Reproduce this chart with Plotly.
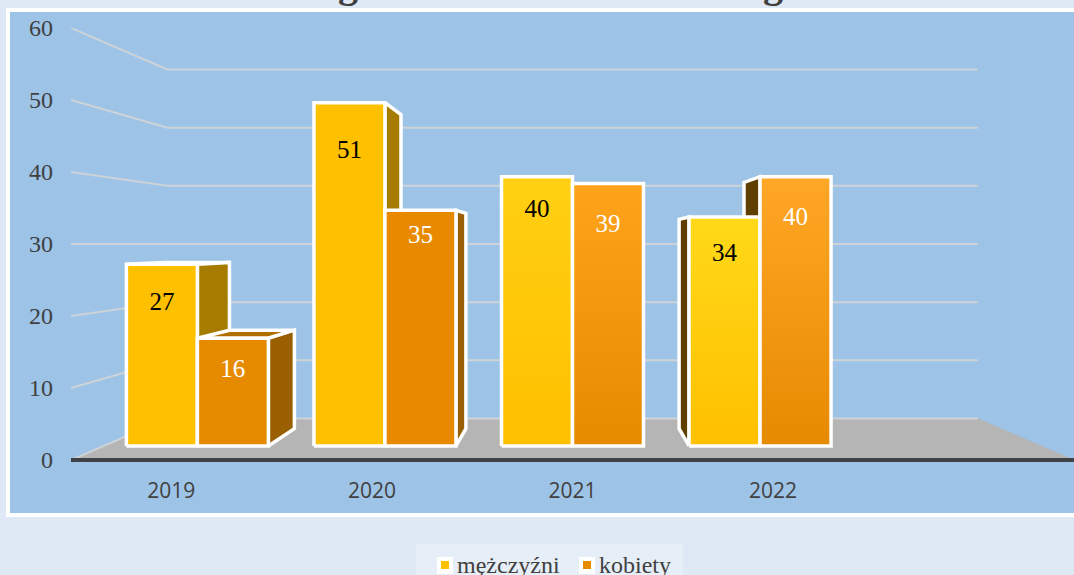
import plotly.graph_objects as go

# ---- data ----
categories = ["2019", "2020", "2021", "2022"]
men = [27, 51, 40, 34]
women = [16, 35, 39, 40]
series_names = ["mężczyźni", "kobiety"]
value_ticks = [0, 10, 20, 30, 40, 50, 60]

# ---- styling and perspective parameters ----
SERIF = "Liberation Serif"
SANS = "Open Sans"
TEXT = "#404040"
PAGE = "#deE9f5"
PANEL = "#9dc3e6"
FLOOR = "#b5b5b5"
GRID = "#cdd3d8"
HALF = 0.3785          # width of one bar in category units
S_FRONT, S_BACK = 0.935, 0.855   # depth scale of a bar's front and back
S_WALL = 0.808         # depth scale of back wall
VP_U, VP_V = 2, 30     # vanishing point in axis units
U_MIN, U_MAX = -0.5, 4.5
V_MAX = 60
M_L, M_R, M_T, M_B = 71, 0, 28, 115
W, H = 1074, 575

men_front = [("#ffc000", "#ffc000"), ("#ffc000", "#ffc000"), ("#ffd012", "#ffc000"), ("#ffd919", "#ffc000")]
women_front = [("#e68a00", "#e68a00"), ("#e88a00", "#e88a00"), ("#ffa31a", "#e68a00"), ("#ffa726", "#e68a00")]
legend_colors = ["#ffc000", "#e68a00"]
men_right, women_right = "#a67c00", "#995f00"
left_face = "#5f3f00"
top_colors = ["#b06f00", "#b06f00"]
# vertical label drop below bar top, in axis units
men_drop = [5.5, 6.8, 4.8, 5.2]
women_drop = [4.5, 3.6, 5.9, 5.8]


def proj(u, v, s):
    return VP_U + (u - VP_U) * s, VP_V + (v - VP_V) * s


fig = go.Figure()


def poly(points, fill, top=None, border="white", width=3.5):
    us, vs = zip(*points)
    kw = dict(fillcolor=fill)
    if top is not None and top != fill:
        kw = dict(fillgradient=dict(type="vertical", colorscale=[[0, fill], [1, top]]))
    fig.add_trace(go.Scatter(x=list(us) + [us[0]], y=list(vs) + [vs[0]], mode="lines", fill="toself",
                             line=dict(color=border, width=width), hoverinfo="skip", showlegend=False, **kw))


# floor
poly([proj(U_MIN, 0, 1), proj(U_MIN, 0, S_WALL), proj(U_MAX, 0, S_WALL), proj(U_MAX, 0, 1)], FLOOR, border=FLOOR, width=0.5)

# walls' gridlines
for t in value_ticks:
    a, b, c = proj(U_MIN, t, 1), proj(U_MIN, t, S_WALL), proj(U_MAX, t, S_WALL)
    fig.add_trace(go.Scatter(x=[a[0], b[0], c[0]], y=[a[1], b[1], c[1]], mode="lines",
                             line=dict(color=GRID, width=2), hoverinfo="skip", showlegend=False))


def back_faces(u0, u1, v, right_col, top_col):
    if v < VP_V:   # top visible
        poly([proj(u0, v, S_FRONT), proj(u0, v, S_BACK), proj(u1, v, S_BACK), proj(u1, v, S_FRONT)], top_col)
    if u1 < VP_U:  # right side visible
        poly([proj(u1, 0, S_FRONT), proj(u1, 0, S_BACK), proj(u1, v, S_BACK), proj(u1, v, S_FRONT)], right_col)
    if u0 > VP_U:  # left side visible
        poly([proj(u0, 0, S_FRONT), proj(u0, 0, S_BACK), proj(u0, v, S_BACK), proj(u0, v, S_FRONT)], left_face)


def front_face(u0, u1, v, cols):
    poly([proj(u0, 0, S_FRONT), proj(u0, v, S_FRONT), proj(u1, v, S_FRONT), proj(u1, 0, S_FRONT)], cols[1], top=cols[0])


label_x, label_y, label_t, label_c = [], [], [], []
for i, cat in enumerate(categories):
    m, w = men[i], women[i]
    back_faces(i - HALF, i, m, men_right, top_colors[0])
    back_faces(i, i + HALF, w, women_right, top_colors[1])
    front_face(i - HALF, i, m, men_front[i])
    front_face(i, i + HALF, w, women_front[i])
    for u0, u1, val, drop, col in ((i - HALF, i, m, men_drop[i], "black"), (i, i + HALF, w, women_drop[i], "white")):
        px, py = proj((u0 + u1) / 2, val, S_FRONT)
        label_x.append(px)
        label_y.append(py - drop)
        label_t.append(str(val))
        label_c.append(col)

fig.add_trace(go.Scatter(x=label_x, y=label_y, text=label_t, mode="text", textposition="middle center",
                         textfont=dict(family=SERIF, size=25, color=label_c), hoverinfo="skip", showlegend=False))

pw, ph = W - M_L - M_R, H - M_T - M_B


def paper_x(p):
    return (p - M_L) / pw


def paper_y(p):
    return 1 - (p - M_T) / ph


def rect(x0, x1, y0, y1, fill, line=None):
    return dict(type="rect", xref="paper", yref="paper", layer="below",
                x0=paper_x(x0), x1=paper_x(x1), y0=paper_y(y1), y1=paper_y(y0),
                fillcolor=fill, line=line or dict(width=0))


shapes = [rect(8, 1080, 10, 515, PANEL, dict(color="white", width=4)),
          rect(416, 683, 544, 580, "#e6eef7"),
          dict(type="line", xref="paper", yref="paper", layer="above", x0=0, x1=1, y0=0, y1=0,
               line=dict(color="#3f4347", width=4))]
annotations = [dict(text="<b>g</b>", x=paper_x(px_g), y=paper_y(8), xref="paper", yref="paper", xanchor="center",
                    yanchor="bottom", showarrow=False, font=dict(family=SERIF, size=40, color=TEXT))
               for px_g in (348, 773)]

# legend: swatch and name per series
for name, col, icon_x in zip(series_names, legend_colors, (437, 579)):
    shapes.append(rect(icon_x, icon_x + 16, 557, 574, "white"))
    shapes.append(rect(icon_x + 4, icon_x + 12, 561, 569, col))
    annotations.append(dict(text=name, x=paper_x(icon_x + 18), y=paper_y(550), xref="paper", yref="paper",
                            xanchor="left", yanchor="top", showarrow=False,
                            font=dict(family=SERIF, size=24, color=TEXT)))

fig.update_layout(
    width=W, height=H, autosize=False, showlegend=False,
    margin=dict(l=M_L, r=M_R, t=M_T, b=M_B),
    paper_bgcolor=PAGE, plot_bgcolor="rgba(0,0,0,0)",
    xaxis=dict(range=[U_MIN, U_MAX], tickmode="array", tickvals=list(range(len(categories))), ticktext=categories,
               showgrid=False, zeroline=False, showline=False, ticks="",
               ticklabelstandoff=16, tickfont=dict(family=SANS, size=21, color=TEXT)),
    yaxis=dict(range=[0, V_MAX], tickmode="array", tickvals=value_ticks, showgrid=False, zeroline=False, showline=False,
               ticks="", ticklabelstandoff=17, tickfont=dict(family=SERIF, size=24, color=TEXT)),
    shapes=shapes,
    annotations=annotations,
)

fig.write_html("out.html", config=dict(displayModeBar=False),
               post_script="document.body.style.margin='0';document.body.style.overflow='hidden';")
